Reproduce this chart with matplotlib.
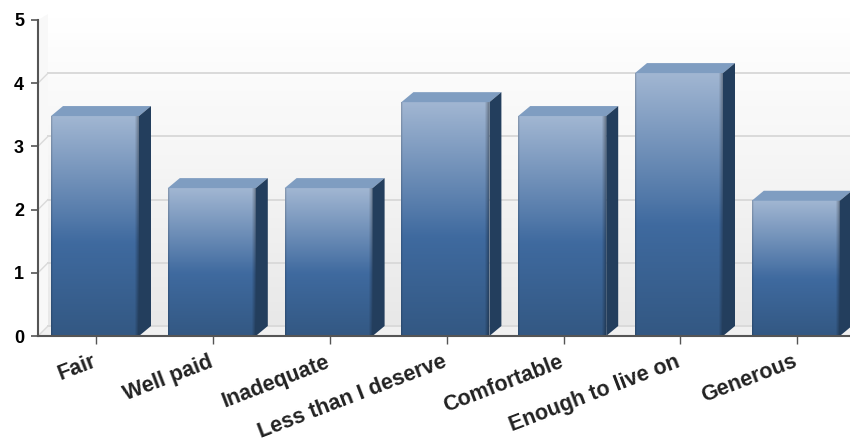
import numpy as np
import matplotlib
matplotlib.use('Agg')
import matplotlib.pyplot as plt
from matplotlib.colors import LinearSegmentedColormap
from matplotlib.patches import Polygon
from matplotlib.transforms import ScaledTranslation

categories = ['Fair', 'Well paid', 'Inadequate', 'Less than I deserve',
              'Comfortable', 'Enough to live on', 'Generous']
values = [3.48, 2.34, 2.34, 3.7, 3.48, 4.16, 2.14]
y_ticks = [0, 1, 2, 3, 4, 5]

plt.rcParams['font.family'] = ['Liberation Sans', 'DejaVu Sans']

fig = plt.figure(figsize=(8.5, 4.44), dpi=100)
ax = fig.add_axes([38 / 850, 108 / 444, 812 / 850, 316 / 444])
x_max = 812 / 116.8
ax.set_xlim(0, x_max)
ax.set_ylim(0, 5)

# глубина псевдо-3D в единицах данных
dx = 10 / 116.8
dy = 10 / 63.2
bar_dx = 12 / 116.8
bar_dy = 10 / 63.2
bar_w = 88 / 116.8
bar_off = 13 / 116.8

# задняя стенка
wall_cmap = LinearSegmentedColormap.from_list('wall', ['#ffffff', '#f5f5f5', '#e8e8e8'])
ax.imshow(np.linspace(0, 1, 64).reshape(-1, 1), cmap=wall_cmap, aspect='auto',
          extent=(dx, x_max, dy, 5 + dy * 0.6), zorder=1, clip_on=False)
ax.add_patch(Polygon([(0, 0), (dx, dy), (dx, 5 + dy * 0.6), (0, 5)], fc='#f8f8f8', ec='none',
                     zorder=1, clip_on=False))
ax.add_patch(Polygon([(0, 0), (dx, dy), (x_max, dy), (x_max, 0)], fc='#f0f0f0', ec='none',
                     zorder=1, clip_on=False))

# линии сетки
for t in y_ticks[:-1]:
    ax.plot([dx, x_max], [t + dy, t + dy], color='#dadada', lw=1.4, zorder=2, clip_on=False)
    ax.plot([0, dx], [t, t + dy], color='#dadada', lw=1.0, zorder=2, clip_on=False)

# столбцы
bar_cmap = LinearSegmentedColormap.from_list(
    'bar', [(0, '#a1b6d2'), (0.58, '#3f6a9f'), (1, '#335883')])
grad = bar_cmap(np.linspace(0, 1, 128))[:, :3]
edge = np.ones(88)
edge[:2] = [0.85, 0.95]
edge[-4:] = [0.94, 0.86, 0.78, 0.7]
face = grad[:, None, :] * edge[None, :, None]

for i, v in enumerate(values):
    x0 = i + bar_off
    x1 = x0 + bar_w
    ax.imshow(face, aspect='auto', extent=(x0, x1, 0, v), zorder=4, clip_on=False,
              interpolation='bilinear')
    ax.add_patch(Polygon([(x0, v), (x0 + bar_dx, v + bar_dy), (x1 + bar_dx, v + bar_dy), (x1, v)],
                         fc='#7f9dc1', ec='none', zorder=4, clip_on=False))
    ax.add_patch(Polygon([(x1, 0), (x1 + bar_dx, bar_dy), (x1 + bar_dx, v + bar_dy), (x1, v)],
                         fc='#233e5d', ec='none', zorder=4))

ax.set_xlim(0, x_max)
ax.set_ylim(0, 5)

for s in ['top', 'right']:
    ax.spines[s].set_visible(False)
for s in ['left', 'bottom']:
    ax.spines[s].set_color('#555555')
    ax.spines[s].set_linewidth(1.5)
    ax.spines[s].set_zorder(6)

ax.set_yticks(y_ticks)
ax.set_yticklabels(y_ticks, fontsize=13, fontweight='bold', color='black')
ax.tick_params(axis='y', length=5, width=1.2, color='#555555', pad=5)
ax.set_xticks(np.arange(len(categories)) + 0.5)
ax.set_xticklabels(categories, rotation=21, ha='right', rotation_mode='anchor',
                   fontsize=15.5, fontweight='bold', color='#222222')
ax.tick_params(axis='x', length=6, width=1.0, color='#555555', pad=5)
# подписи чуть левее засечек
shift = ScaledTranslation(-5 / 100, 0, fig.dpi_scale_trans)
for lab in ax.get_xticklabels():
    lab.set_transform(lab.get_transform() + shift)

fig.savefig('out.png', dpi=100)
